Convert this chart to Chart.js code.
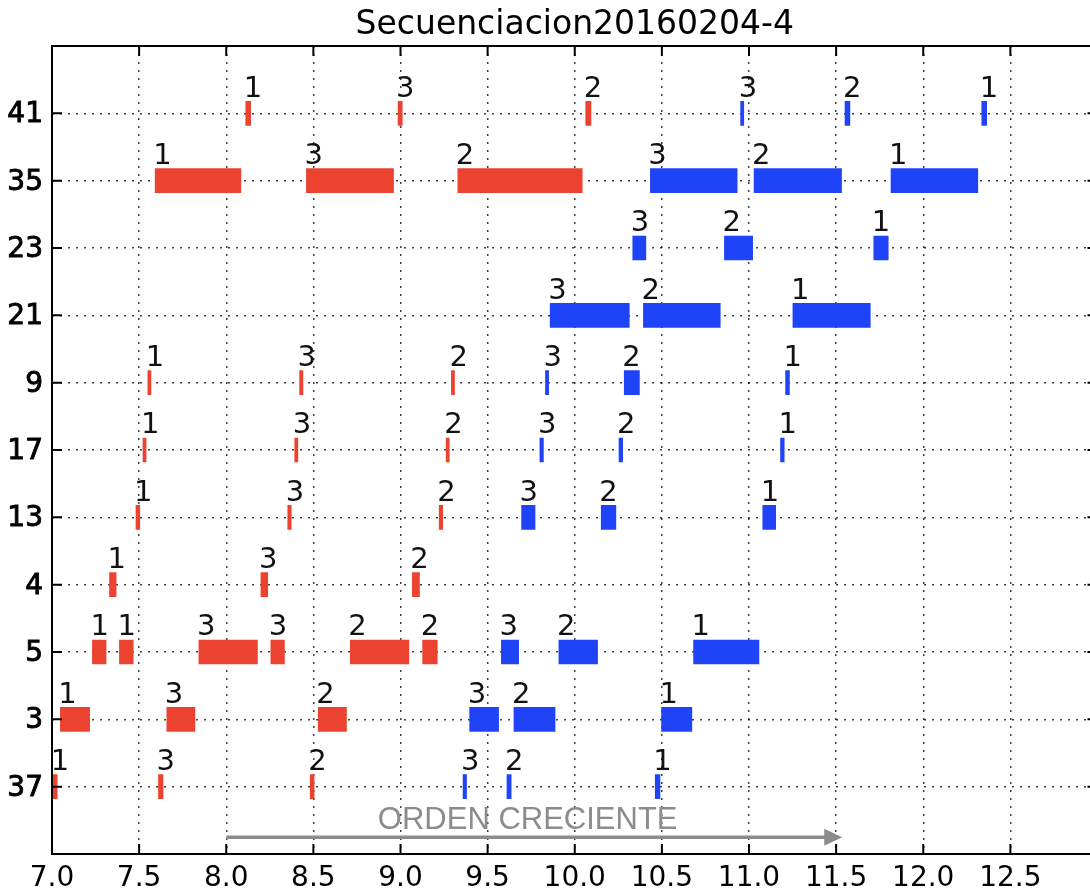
<!DOCTYPE html>
<html>
<head>
<meta charset="utf-8">
<script src="https://cdn.jsdelivr.net/npm/chart.js@4.4.1/dist/chart.umd.min.js"></script>
<style>
    html, body { margin: 0; padding: 0; background: #fff; overflow: hidden; }
    #wrap { width: 1100px; height: 892px; }
</style>
</head>
<body>
<div id="wrap"><canvas id="chart" width="1100" height="892"></canvas></div>
<script>
// rows, bottom to top
const rowLabels = ['37', '3', '5', '4', '13', '17', '9', '21', '23', '35', '41'];
const xTickValues = [7.0, 7.5, 8.0, 8.5, 9.0, 9.5, 10.0, 10.5, 11.0, 11.5, 12.0, 12.5];
const xTickLabels = ['7.0', '7.5', '8.0', '8.5', '9.0', '9.5', '10.0', '10.5', '11.0', '11.5', '12.0', '12.5'];

// red sequence
const redRow = ['41', '41', '41', '35', '35', '35', '9', '9', '9', '17', '17', '17', '13', '13', '13',
    '4', '4', '4', '5', '5', '5', '5', '5', '5', '3', '3', '3', '37', '37', '37'];
const redStart = [8.112, 8.986, 10.063, 7.592, 8.460, 9.329, 7.550, 8.421, 9.292, 7.522, 8.393, 9.262,
    7.482, 8.353, 9.222, 7.330, 8.199, 9.068, 7.232, 7.387, 7.843, 8.256, 8.712, 9.127,
    7.048, 7.659, 8.528, 7.005, 7.611, 8.482];
const redEnd = [8.140, 9.010, 10.093, 8.084, 8.960, 10.043, 7.568, 8.440, 9.310, 7.540, 8.411, 9.280,
    7.504, 8.373, 9.242, 7.368, 8.238, 9.109, 7.310, 7.466, 8.179, 8.334, 9.048, 9.211,
    7.216, 7.820, 8.690, 7.030, 7.637, 8.504];
const redTag = ['1', '3', '2', '1', '3', '2', '1', '3', '2', '1', '3', '2', '1', '3', '2',
    '1', '3', '2', '1', '1', '3', '3', '2', '2', '1', '3', '2', '1', '3', '2'];

// blue sequence
const blueRow = ['41', '41', '41', '35', '35', '35', '23', '23', '23', '21', '21', '21', '9', '9', '9',
    '17', '17', '17', '13', '13', '13', '5', '5', '5', '3', '3', '3', '37', '37', '37'];
const blueStart = [10.952, 11.551, 12.336, 10.434, 11.029, 11.815, 10.333, 10.859, 11.716, 9.859, 10.394, 11.252,
    9.832, 10.284, 11.210, 9.800, 10.254, 11.181, 9.695, 10.152, 11.079, 9.579, 9.909, 10.682,
    9.397, 9.651, 10.498, 9.359, 9.611, 10.462];
const blueEnd = [10.970, 11.579, 12.364, 10.932, 11.531, 12.313, 10.408, 11.021, 11.799, 10.313, 10.835, 11.696,
    9.850, 10.371, 11.232, 9.820, 10.275, 11.202, 9.772, 10.236, 11.153, 9.678, 10.131, 11.057,
    9.563, 9.887, 10.672, 9.379, 9.635, 10.489];
const blueTag = ['3', '2', '1', '3', '2', '1', '3', '2', '1', '3', '2', '1', '3', '2', '1',
    '3', '2', '1', '3', '2', '1', '3', '2', '1', '3', '2', '1', '3', '2', '1'];

const titleText = 'Secuenciacion20160204-4';
const arrowText = 'ORDEN CRECIENTE';

const RED = '#eb4330';
const BLUE = '#1f43f7';

document.addEventListener('DOMContentLoaded', function() {
    const bars = [];
    const colors = [];
    const tags = [];
    redRow.forEach((r, i) => {
        bars.push({ x: [redStart[i], redEnd[i]], y: rowLabels.indexOf(r) });
        colors.push(RED);
        tags.push(redTag[i]);
    });
    blueRow.forEach((r, i) => {
        bars.push({ x: [blueStart[i], blueEnd[i]], y: rowLabels.indexOf(r) });
        colors.push(BLUE);
        tags.push(blueTag[i]);
    });

    // spines, inward ticks, axis labels, tags, title and the arrow note
    const decor = {
        id: 'decor',
        afterDraw(chart) {
            const ctx = chart.ctx;
            const a = chart.chartArea;
            const xs = chart.scales.x;
            const ys = chart.scales.y;
            ctx.save();

            ctx.strokeStyle = '#000';
            ctx.lineWidth = 2;
            ctx.strokeRect(a.left, a.top, a.right - a.left, a.bottom - a.top);

            for (let v = 7; v <= 13; v += 0.5) {
                const px = xs.getPixelForValue(v);
                ctx.beginPath();
                ctx.moveTo(px, a.bottom); ctx.lineTo(px, a.bottom - 10);
                ctx.moveTo(px, a.top); ctx.lineTo(px, a.top + 10);
                ctx.stroke();
            }
            for (let i = 0; i < rowLabels.length; i++) {
                const py = ys.getPixelForValue(i);
                ctx.beginPath();
                ctx.moveTo(a.left, py); ctx.lineTo(a.left + 10, py);
                ctx.moveTo(a.right, py); ctx.lineTo(a.right - 10, py);
                ctx.stroke();
            }

            // x labels, centred under their ticks
            ctx.fillStyle = '#000';
            ctx.font = '28px "DejaVu Sans"';
            ctx.textAlign = 'center';
            ctx.textBaseline = 'alphabetic';
            xTickValues.forEach((v, i) => {
                ctx.fillText(xTickLabels[i], xs.getPixelForValue(v), a.bottom + 32);
            });

            // y labels, a bit heavier than the x ones
            ctx.strokeStyle = '#000';
            ctx.lineWidth = 0.9;
            ctx.textAlign = 'right';
            rowLabels.forEach((lab, i) => {
                const py = ys.getPixelForValue(i) + 9;
                ctx.fillText(lab, a.left - 9, py);
                ctx.strokeText(lab, a.left - 9, py);
            });

            // number tags above each bar
            ctx.fillStyle = '#111';
            ctx.font = '29px "DejaVu Sans"';
            ctx.textAlign = 'left';
            bars.forEach((b, i) => {
                ctx.fillText(tags[i], xs.getPixelForValue(b.x[0]) - 2, ys.getPixelForValue(b.y + 0.25));
            });

            // title
            ctx.font = '33px "DejaVu Sans"';
            ctx.textAlign = 'center';
            ctx.fillStyle = '#000';
            ctx.fillText(titleText, (a.left + a.right) / 2, 34);

            // arrow note
            const ay = ys.getPixelForValue(-0.75);
            const x0 = xs.getPixelForValue(8.0);
            const x1 = xs.getPixelForValue(11.535);
            ctx.strokeStyle = '#8c8c8c';
            ctx.fillStyle = '#8c8c8c';
            ctx.lineWidth = 3.5;
            ctx.beginPath();
            ctx.moveTo(x0, ay); ctx.lineTo(x1 - 16, ay);
            ctx.stroke();
            ctx.beginPath();
            ctx.moveTo(x1, ay); ctx.lineTo(x1 - 18, ay - 8.5); ctx.lineTo(x1 - 18, ay + 8.5);
            ctx.closePath();
            ctx.fill();
            ctx.font = '31px "Liberation Sans"';
            ctx.textBaseline = 'middle';
            ctx.fillText(arrowText, xs.getPixelForValue(9.73), ys.getPixelForValue(-0.5));
            ctx.restore();
        }
    };

    new Chart(document.getElementById('chart').getContext('2d'), {
        type: 'bar',
        data: {
            datasets: [{
                data: bars,
                backgroundColor: colors,
                borderWidth: 0,
                barThickness: 24
            }]
        },
        options: {
            indexAxis: 'y',
            responsive: false,
            animation: false,
            layout: { padding: { top: 46, right: 2.5, left: 0, bottom: 0 } },
            plugins: {
                legend: { display: false },
                tooltip: { enabled: false },
                title: { display: false }
            },
            scales: {
                x: {
                    type: 'linear',
                    min: 7,
                    max: 13,
                    z: 1,
                    afterFit: scale => {
                        scale.height = 38;
                        scale.paddingLeft = 0;
                        scale.paddingRight = 0;
                    },
                    ticks: {
                        display: false,
                        stepSize: 0.5,
                        autoSkip: false
                    },
                    grid: {
                        color: 'rgba(0,0,0,0.75)',
                        lineWidth: 1.5,
                        drawTicks: false
                    },
                    border: { display: false, dash: [2, 6] }
                },
                y: {
                    type: 'linear',
                    min: -1,
                    max: 11,
                    offset: false,
                    z: 1,
                    afterFit: scale => {
                        scale.width = 52;
                        scale.paddingTop = 0;
                        scale.paddingBottom = 0;
                    },
                    ticks: {
                        display: false,
                        stepSize: 1,
                        autoSkip: false
                    },
                    grid: {
                        offset: false,
                        color: ctx => (ctx.tick && (ctx.tick.value < 0 || ctx.tick.value > 10)) ? 'rgba(0,0,0,0)' : 'rgba(0,0,0,0.75)',
                        lineWidth: 1.5,
                        drawTicks: false
                    },
                    border: { display: false, dash: [2, 6] }
                }
            }
        },
        plugins: [decor]
    });
});
</script>
</body>
</html>
